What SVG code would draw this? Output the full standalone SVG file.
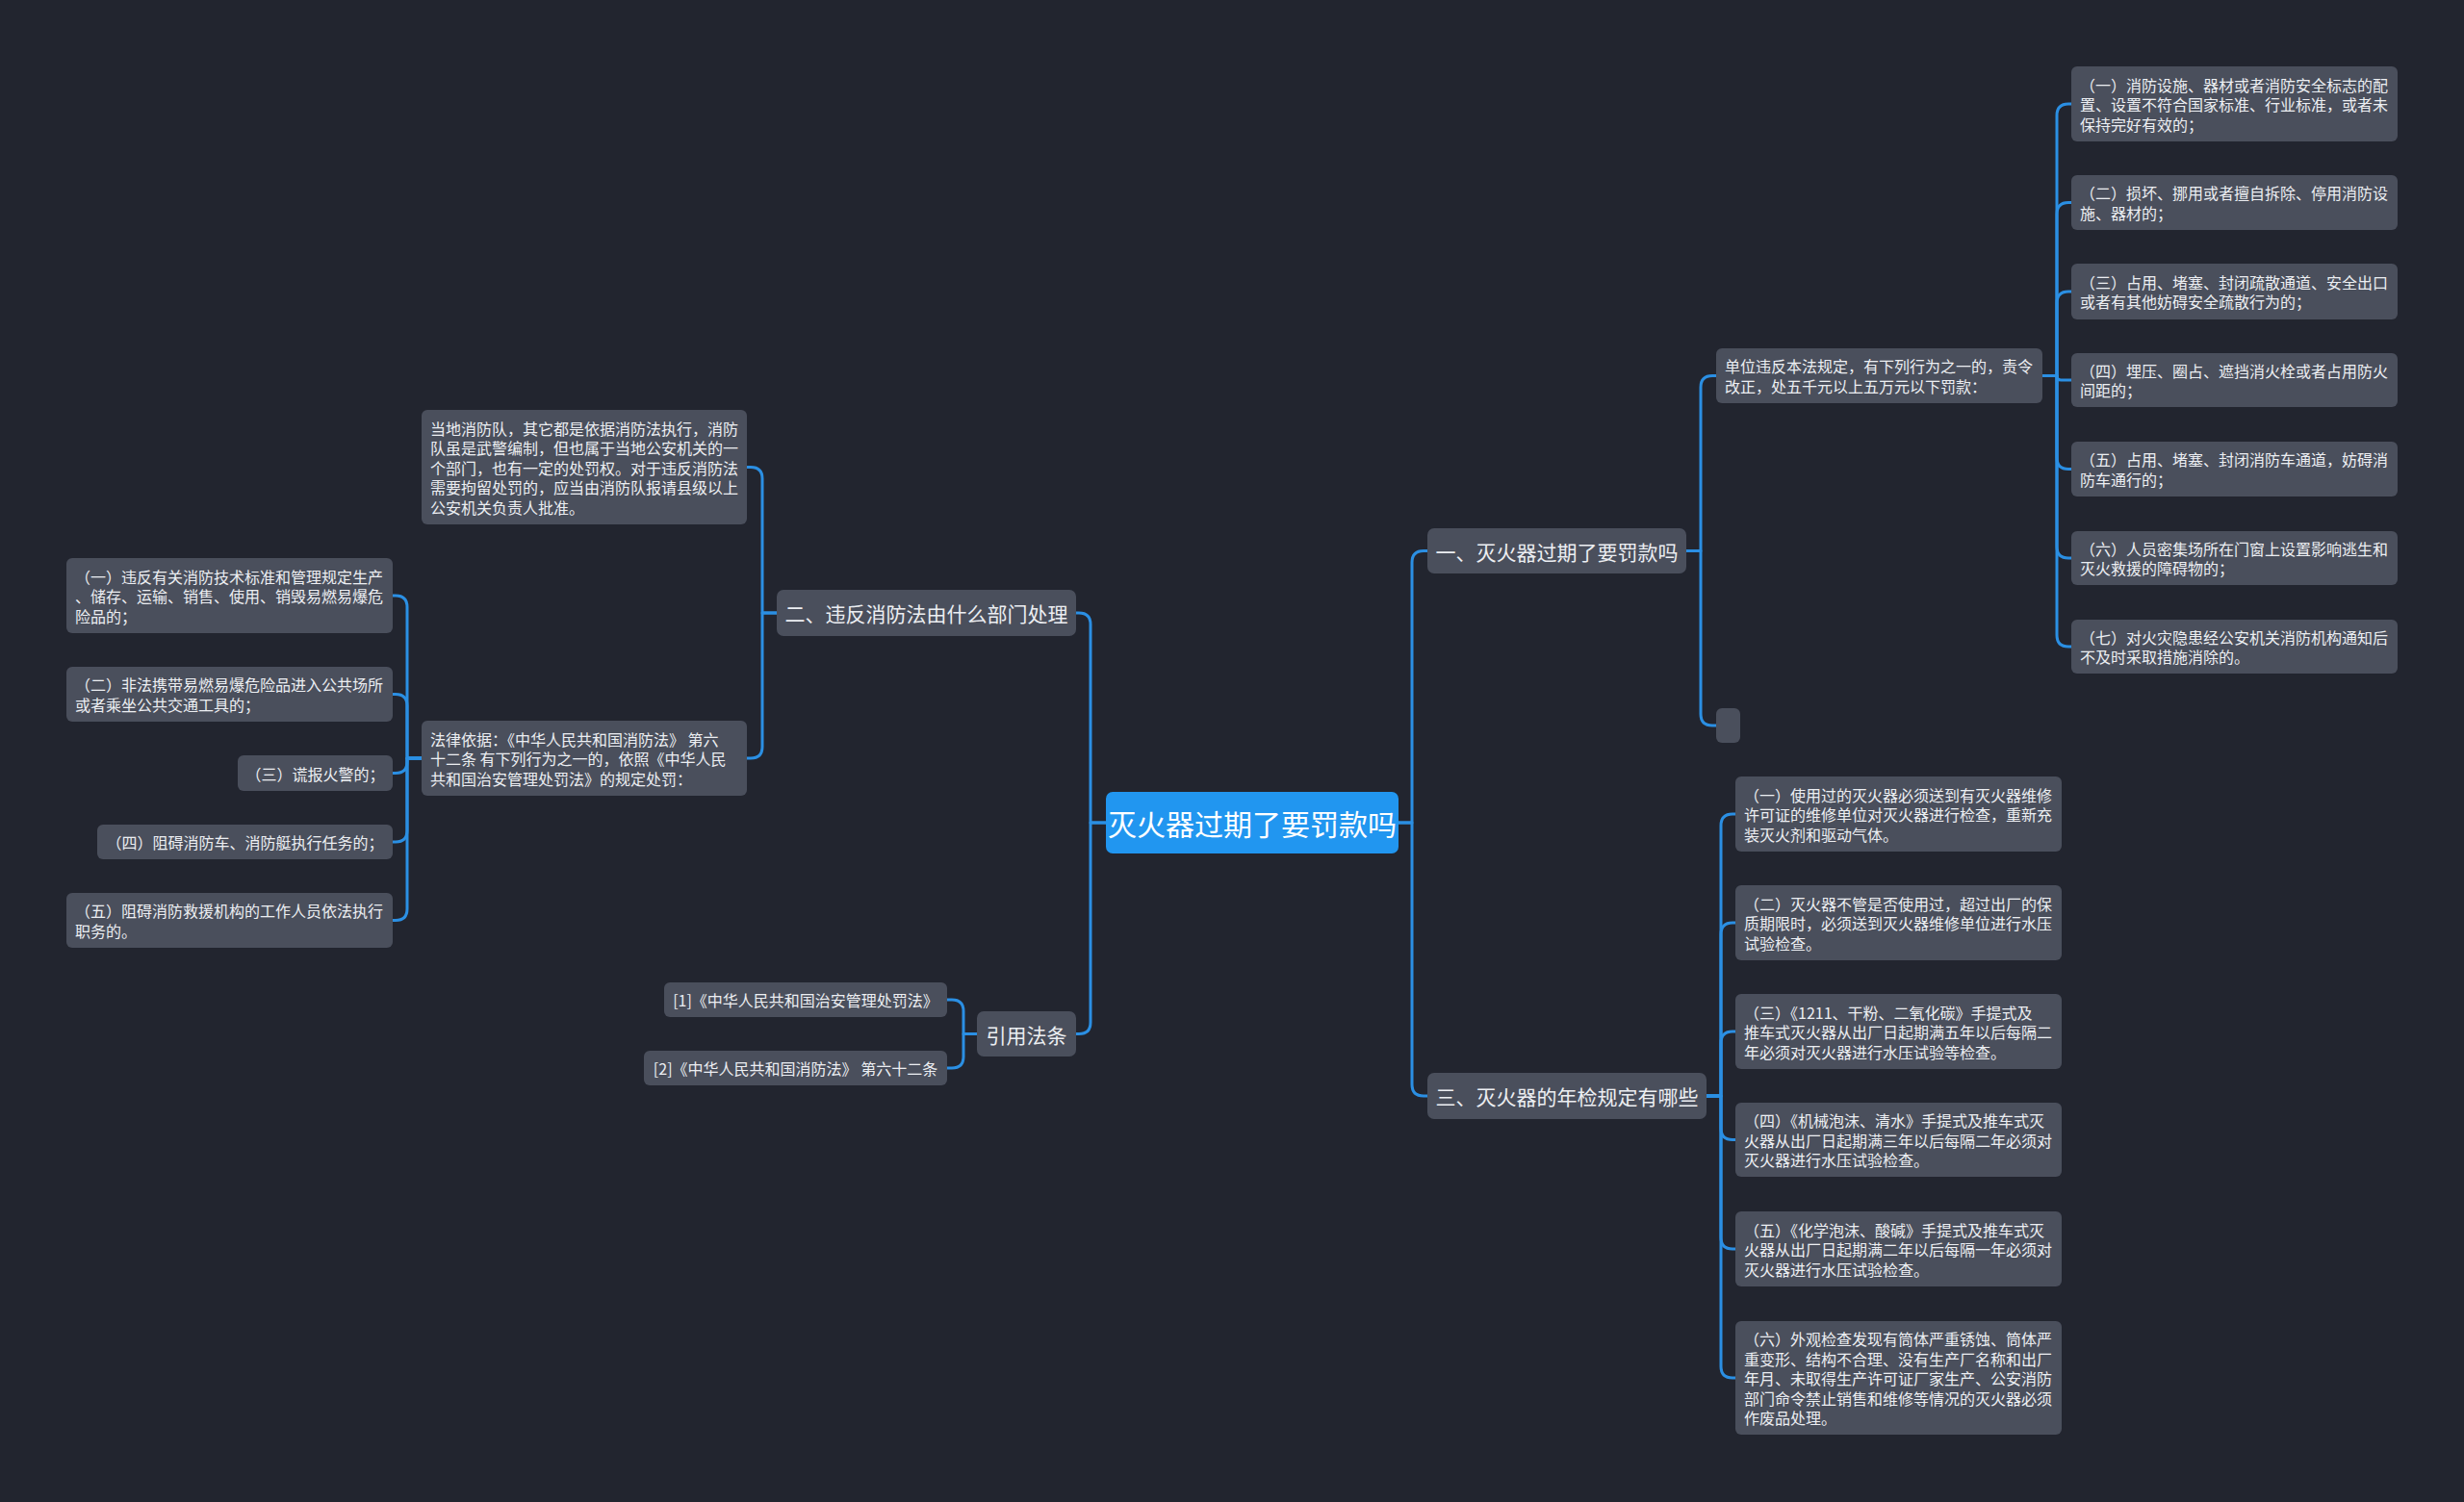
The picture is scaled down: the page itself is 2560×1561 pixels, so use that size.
<svg xmlns="http://www.w3.org/2000/svg" width="2560" height="1561" viewBox="0 0 2560 1561">
<style>
.bg{fill:#22252f}
.n{fill:#4a4f5c}
.root{fill:#2196f0}
.c{fill:none;stroke:#2b8fe3;stroke-width:3;stroke-linecap:round;stroke-linejoin:round}
text{font-family:"Noto Sans CJK SC","Noto Sans",sans-serif;fill:#eceef2;dominant-baseline:central}
.t1{font-size:21px;text-anchor:middle}
.t0{font-size:30px;text-anchor:middle;fill:#ffffff}
.t2{font-size:16px}
.tm{font-size:16px;text-anchor:middle}
</style>
<rect class="bg" x="0" y="0" width="2560" height="1561"/>

<g id="connectors">
<!-- root -->
<path class="c" d="M1453,855 H1467 V584.5 Q1467,572.5 1479,572.5 H1483"/>
<path class="c" d="M1453,855 H1467 V1127 Q1467,1139 1479,1139 H1483"/>
<path class="c" d="M1149,855 H1133 V649 Q1133,637 1121,637 H1118"/>
<path class="c" d="M1149,855 H1133 V1062.5 Q1133,1074.5 1121,1074.5 H1118"/>
<!-- node 一 -->
<path class="c" d="M1752,572.5 H1767 V402.5 Q1767,390.5 1779,390.5 H1783"/>
<path class="c" d="M1752,572.5 H1767 V742 Q1767,754 1779,754 H1783"/>
<!-- 单位 -->
<path class="c" d="M2122,390.5 H2137 V120 Q2137,108 2149,108 H2152"/>
<path class="c" d="M2122,390.5 H2137 V222.5 Q2137,210.5 2149,210.5 H2152"/>
<path class="c" d="M2122,390.5 H2137 V315 Q2137,303 2149,303 H2152"/>
<path class="c" d="M2122,390.5 H2137 V390.5 Q2137,395 2141.5,395 H2152"/>
<path class="c" d="M2122,390.5 H2137 V475.5 Q2137,487.5 2149,487.5 H2152"/>
<path class="c" d="M2122,390.5 H2137 V568 Q2137,580 2149,580 H2152"/>
<path class="c" d="M2122,390.5 H2137 V660 Q2137,672 2149,672 H2152"/>
<!-- node 三 -->
<path class="c" d="M1773,1139 H1788 V858 Q1788,846 1800,846 H1803"/>
<path class="c" d="M1773,1139 H1788 V971 Q1788,959 1800,959 H1803"/>
<path class="c" d="M1773,1139 H1788 V1084 Q1788,1072 1800,1072 H1803"/>
<path class="c" d="M1773,1139 H1788 V1172.5 Q1788,1184.5 1800,1184.5 H1803"/>
<path class="c" d="M1773,1139 H1788 V1286 Q1788,1298 1800,1298 H1803"/>
<path class="c" d="M1773,1139 H1788 V1420 Q1788,1432 1800,1432 H1803"/>
<!-- node 二 -->
<path class="c" d="M807,637 H792 V497.5 Q792,485.5 780,485.5 H776"/>
<path class="c" d="M807,637 H792 V776 Q792,788 780,788 H776"/>
<!-- 法律 -->
<path class="c" d="M438,788 H423 V631 Q423,619 411,619 H408"/>
<path class="c" d="M438,788 H423 V733.5 Q423,721.5 411,721.5 H408"/>
<path class="c" d="M438,788 H423 V791.5 Q423,803.5 411,803.5 H408"/>
<path class="c" d="M438,788 H423 V863 Q423,875 411,875 H408"/>
<path class="c" d="M438,788 H423 V944.5 Q423,956.5 411,956.5 H408"/>
<!-- 引用 -->
<path class="c" d="M1015,1074.5 H1001 V1051 Q1001,1039 989,1039 H984"/>
<path class="c" d="M1015,1074.5 H1001 V1098 Q1001,1110 989,1110 H984"/>
</g>

<g id="root">
<rect class="root" x="1149" y="823" width="304" height="64" rx="7"/>
<text class="t0" x="1301" y="855">灭火器过期了要罚款吗</text>
</g>

<g id="n1">
<rect class="n" x="1483" y="549" width="269" height="47" rx="7"/>
<text class="t1" x="1617.5" y="572.5">一、灭火器过期了要罚款吗</text>
</g>
<g id="n2">
<rect class="n" x="807" y="613" width="311" height="48" rx="7"/>
<text class="t1" x="962.5" y="637">二、违反消防法由什么部门处理</text>
</g>
<g id="n3">
<rect class="n" x="1483" y="1115" width="290" height="48" rx="7"/>
<text class="t1" x="1628" y="1139">三、灭火器的年检规定有哪些</text>
</g>
<g id="n4">
<rect class="n" x="1015" y="1051" width="103" height="47" rx="7"/>
<text class="t1" x="1066.5" y="1074.5">引用法条</text>
</g>

<g id="n1-a">
<rect class="n" x="1783" y="362" width="339" height="57" rx="6"/>
<text class="t2" x="1792"><tspan x="1792" y="380.25">单位违反本法规定，有下列行为之一的，责令</tspan><tspan x="1792" y="400.75">改正，处五千元以上五万元以下罚款：</tspan></text>
</g>
<g id="n1-b">
<rect class="n" x="1783" y="736" width="25" height="36" rx="6"/>
</g>

<g id="n1-a-1">
<rect class="n" x="2152" y="69" width="339" height="78" rx="6"/>
<text class="t2"><tspan x="2161" y="87.5">（一）消防设施、器材或者消防安全标志的配</tspan><tspan x="2161" y="108">置、设置不符合国家标准、行业标准，或者未</tspan><tspan x="2161" y="128.5">保持完好有效的；</tspan></text>
</g>
<g id="n1-a-2">
<rect class="n" x="2152" y="182" width="339" height="57" rx="6"/>
<text class="t2"><tspan x="2161" y="200.25">（二）损坏、挪用或者擅自拆除、停用消防设</tspan><tspan x="2161" y="220.75">施、器材的；</tspan></text>
</g>
<g id="n1-a-3">
<rect class="n" x="2152" y="274" width="339" height="58" rx="6"/>
<text class="t2"><tspan x="2161" y="292.75">（三）占用、堵塞、封闭疏散通道、安全出口</tspan><tspan x="2161" y="313.25">或者有其他妨碍安全疏散行为的；</tspan></text>
</g>
<g id="n1-a-4">
<rect class="n" x="2152" y="367" width="339" height="56" rx="6"/>
<text class="t2"><tspan x="2161" y="384.75">（四）埋压、圈占、遮挡消火栓或者占用防火</tspan><tspan x="2161" y="405.25">间距的；</tspan></text>
</g>
<g id="n1-a-5">
<rect class="n" x="2152" y="459" width="339" height="57" rx="6"/>
<text class="t2"><tspan x="2161" y="477.25">（五）占用、堵塞、封闭消防车通道，妨碍消</tspan><tspan x="2161" y="497.75">防车通行的；</tspan></text>
</g>
<g id="n1-a-6">
<rect class="n" x="2152" y="552" width="339" height="56" rx="6"/>
<text class="t2"><tspan x="2161" y="569.75">（六）人员密集场所在门窗上设置影响逃生和</tspan><tspan x="2161" y="590.25">灭火救援的障碍物的；</tspan></text>
</g>
<g id="n1-a-7">
<rect class="n" x="2152" y="644" width="339" height="56" rx="6"/>
<text class="t2"><tspan x="2161" y="661.75">（七）对火灾隐患经公安机关消防机构通知后</tspan><tspan x="2161" y="682.25">不及时采取措施消除的。</tspan></text>
</g>

<g id="n3-1">
<rect class="n" x="1803" y="807" width="339" height="78" rx="6"/>
<text class="t2"><tspan x="1812" y="825.5">（一）使用过的灭火器必须送到有灭火器维修</tspan><tspan x="1812" y="846">许可证的维修单位对灭火器进行检查，重新充</tspan><tspan x="1812" y="866.5">装灭火剂和驱动气体。</tspan></text>
</g>
<g id="n3-2">
<rect class="n" x="1803" y="920" width="339" height="78" rx="6"/>
<text class="t2"><tspan x="1812" y="938.5">（二）灭火器不管是否使用过，超过出厂的保</tspan><tspan x="1812" y="959">质期限时，必须送到灭火器维修单位进行水压</tspan><tspan x="1812" y="979.5">试验检查。</tspan></text>
</g>
<g id="n3-3">
<rect class="n" x="1803" y="1033" width="339" height="78" rx="6"/>
<text class="t2"><tspan x="1812" y="1051.5">（三）《1211、干粉、二氧化碳》手提式及</tspan><tspan x="1812" y="1072">推车式灭火器从出厂日起期满五年以后每隔二</tspan><tspan x="1812" y="1092.5">年必须对灭火器进行水压试验等检查。</tspan></text>
</g>
<g id="n3-4">
<rect class="n" x="1803" y="1146" width="339" height="77" rx="6"/>
<text class="t2"><tspan x="1812" y="1164">（四）《机械泡沫、清水》手提式及推车式灭</tspan><tspan x="1812" y="1184.5">火器从出厂日起期满三年以后每隔二年必须对</tspan><tspan x="1812" y="1205">灭火器进行水压试验检查。</tspan></text>
</g>
<g id="n3-5">
<rect class="n" x="1803" y="1259" width="339" height="78" rx="6"/>
<text class="t2"><tspan x="1812" y="1277.5">（五）《化学泡沫、酸碱》手提式及推车式灭</tspan><tspan x="1812" y="1298">火器从出厂日起期满二年以后每隔一年必须对</tspan><tspan x="1812" y="1318.5">灭火器进行水压试验检查。</tspan></text>
</g>
<g id="n3-6">
<rect class="n" x="1803" y="1373" width="339" height="118" rx="6"/>
<text class="t2"><tspan x="1812" y="1391">（六）外观检查发现有筒体严重锈蚀、筒体严</tspan><tspan x="1812" y="1411.5">重变形、结构不合理、没有生产厂名称和出厂</tspan><tspan x="1812" y="1432">年月、未取得生产许可证厂家生产、公安消防</tspan><tspan x="1812" y="1452.5">部门命令禁止销售和维修等情况的灭火器必须</tspan><tspan x="1812" y="1473">作废品处理。</tspan></text>
</g>

<g id="n2-1">
<rect class="n" x="438" y="426" width="338" height="119" rx="6"/>
<text class="t2"><tspan x="447" y="444.5">当地消防队，其它都是依据消防法执行，消防</tspan><tspan x="447" y="465">队虽是武警编制，但也属于当地公安机关的一</tspan><tspan x="447" y="485.5">个部门，也有一定的处罚权。对于违反消防法</tspan><tspan x="447" y="506">需要拘留处罚的，应当由消防队报请县级以上</tspan><tspan x="447" y="526.5">公安机关负责人批准。</tspan></text>
</g>
<g id="n2-2">
<rect class="n" x="438" y="749" width="338" height="78" rx="6"/>
<text class="t2"><tspan x="447" y="767.5">法律依据：《中华人民共和国消防法》 第六</tspan><tspan x="447" y="788">十二条 有下列行为之一的，依照《中华人民</tspan><tspan x="447" y="808.5">共和国治安管理处罚法》的规定处罚：</tspan></text>
</g>

<g id="n2-2-1">
<rect class="n" x="69" y="580" width="339" height="78" rx="6"/>
<text class="t2"><tspan x="78" y="598.5">（一）违反有关消防技术标准和管理规定生产</tspan><tspan x="78" y="619">、储存、运输、销售、使用、销毁易燃易爆危</tspan><tspan x="78" y="639.5">险品的；</tspan></text>
</g>
<g id="n2-2-2">
<rect class="n" x="69" y="693" width="339" height="57" rx="6"/>
<text class="t2"><tspan x="78" y="711.25">（二）非法携带易燃易爆危险品进入公共场所</tspan><tspan x="78" y="731.75">或者乘坐公共交通工具的；</tspan></text>
</g>
<g id="n2-2-3">
<rect class="n" x="247" y="785" width="161" height="37" rx="6"/>
<text class="tm" x="327.5" y="803.5">（三）谎报火警的；</text>
</g>
<g id="n2-2-4">
<rect class="n" x="101" y="857" width="307" height="36" rx="6"/>
<text class="tm" x="254.5" y="875">（四）阻碍消防车、消防艇执行任务的；</text>
</g>
<g id="n2-2-5">
<rect class="n" x="69" y="928" width="339" height="57" rx="6"/>
<text class="t2"><tspan x="78" y="946.25">（五）阻碍消防救援机构的工作人员依法执行</tspan><tspan x="78" y="966.75">职务的。</tspan></text>
</g>

<g id="n4-1">
<rect class="n" x="690" y="1021" width="294" height="36" rx="6"/>
<text class="tm" x="837" y="1039">[1]《中华人民共和国治安管理处罚法》</text>
</g>
<g id="n4-2">
<rect class="n" x="669" y="1092" width="315" height="36" rx="6"/>
<text class="tm" x="826.5" y="1110">[2]《中华人民共和国消防法》 第六十二条</text>
</g>
</svg>
